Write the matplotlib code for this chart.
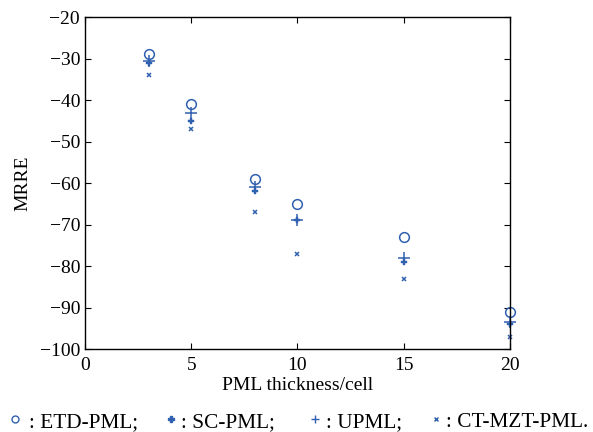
import matplotlib.pyplot as plt

plt.rcParams['font.family'] = ['Liberation Serif', 'DejaVu Serif']
plt.rcParams['mathtext.fontset'] = 'stix'

thickness = [3, 5, 8, 10, 15, 20]
etd_pml = [-29, -41, -59, -65, -73, -91]
sc_pml = [-31, -45, -62, -69, -79, -94]
upml = [-30.5, -43, -61, -69, -78, -93.5]
ct_mzt_pml = [-34, -47, -67, -77, -83, -97]

blue = '#3060b0'

fig = plt.figure(figsize=(5.93, 4.32), dpi=100)
ax = fig.add_axes([0.1433, 0.192, 0.7167, 0.7685])

ax.plot(thickness, etd_pml, 'o', ms=7, mfc='none', mec=blue, mew=1.1, clip_on=False)
ax.plot(thickness, upml, '+', ms=9, mec=blue, mew=1.1, clip_on=False)
ax.plot(thickness, sc_pml, 'P', ms=5, mfc=blue, mec=blue, mew=0.3, clip_on=False)
ax.plot(thickness, ct_mzt_pml, 'x', ms=3.5, mec=blue, mew=1.1, clip_on=False)

ax.set_xlim(0, 20)
ax.set_ylim(-100, -20)
ax.set_xticks([0, 5, 10, 15, 20])
ax.set_yticks(range(-100, -19, 10))
ax.tick_params(direction='in', labelsize=14, length=4, top=True, right=True)
ax.tick_params(axis='x', pad=6)
for s in ax.spines.values():
    s.set_linewidth(1.0)
ax.set_xlabel('PML thickness/cell', fontsize=14, labelpad=2)
ax.set_ylabel('MRRE', fontsize=14, labelpad=6)

# legend line below the axes
items = [(15, 'o', 'none', 5, 29, ': ETD-PML;'),
         (171, 'P', blue, 4, 181, ': SC-PML;'),
         (315, '+', blue, 6, 326, ': UPML;'),
         (436, 'x', blue, 3, 446, ': CT-MZT-PML.')]
for mx, m, fc, ms, tx, label in items:
    fig.lines.append(plt.Line2D([mx / 593], [0.030], marker=m, ms=ms, mfc=fc, mec=blue,
                                mew=1.0, transform=fig.transFigure, linestyle='none'))
    fig.text(tx / 593, 0.011, label, fontsize=15.3, va='baseline')

fig.savefig('out.png', dpi=100)
